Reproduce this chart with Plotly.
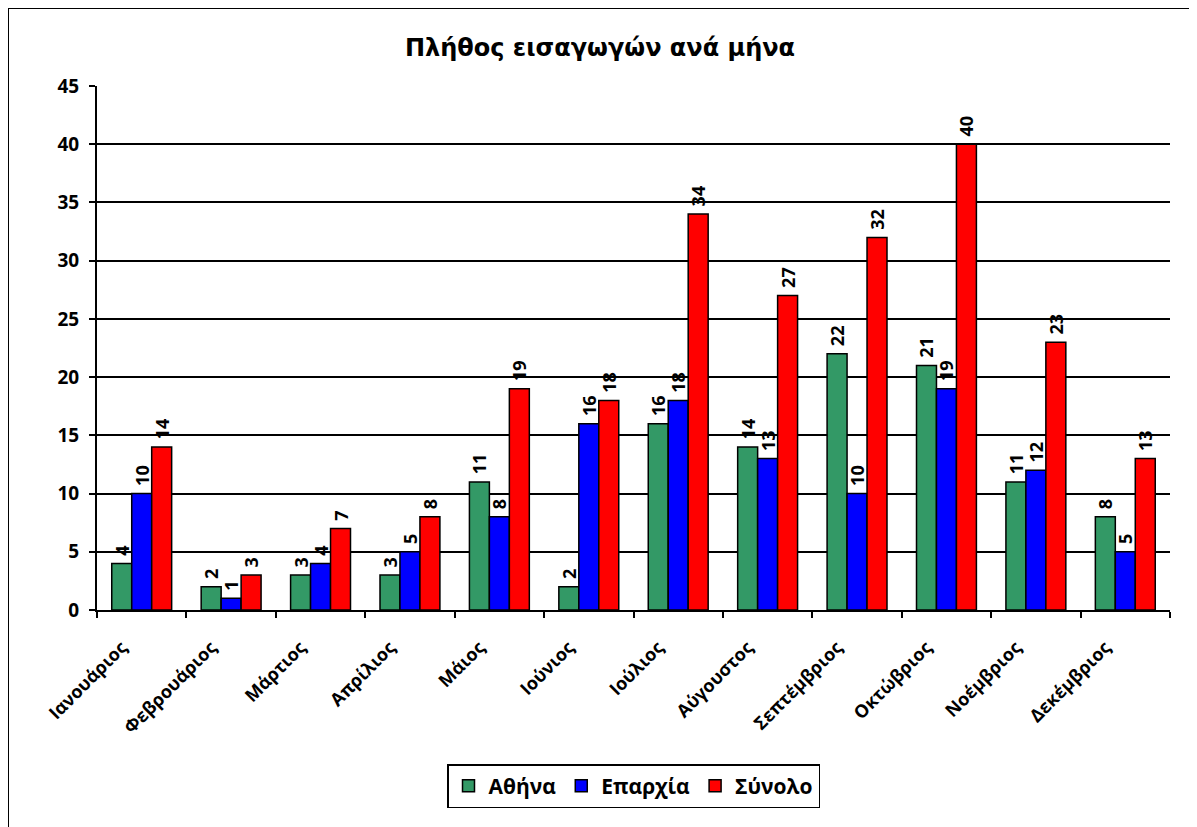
import plotly.graph_objects as go

months = ["Ιανουάριος", "Φεβρουάριος", "Μάρτιος", "Απρίλιος", "Μάιος", "Ιούνιος",
          "Ιούλιος", "Αύγουστος", "Σεπτέμβριος", "Οκτώβριος", "Νοέμβριος", "Δεκέμβριος"]
athina = [4, 2, 3, 3, 11, 2, 16, 14, 22, 21, 11, 8]
eparxia = [10, 1, 4, 5, 8, 16, 18, 13, 10, 19, 12, 5]
synolo = [14, 3, 7, 8, 19, 18, 34, 27, 32, 40, 23, 13]
series_names = ["Αθήνα", "Επαρχία", "Σύνολο"]
colors = ["#339966", "#0000FF", "#FF0000"]

FONT = "Open Sans"
fig = go.Figure()
for name, vals, col in zip(series_names, [athina, eparxia, synolo], colors):
    fig.add_trace(go.Bar(
        x=months, y=vals, name=name,
        marker=dict(color=col, line=dict(color="black", width=1.5)),
        text=["\u00a0" + str(v) for v in vals], textposition="outside", textangle=-90,
        constraintext="none",
        textfont=dict(family=FONT, size=18, color="black", weight="bold"),
        cliponaxis=False,
    ))

W, H = 1197, 827
# plot area in figure coordinates (page is offset by the body margin)
L, R, T, B = 89, 1162, 78, 602
pw, ph = R - L, B - T

fig.update_layout(
    width=W, height=H,
    margin=dict(l=L, r=W - R, t=T, b=H - B, autoexpand=False),
    paper_bgcolor="white", plot_bgcolor="white",
    barmode="group", bargap=0.33, bargroupgap=0,
    title=dict(text="Πλήθος εισαγωγών ανά μήνα", x=592 / W, xanchor="center",
               y=1 - 40 / H, yanchor="middle",
               font=dict(family="DejaVu Sans", size=24, color="black", weight="bold")),
    font=dict(family=FONT, color="black"),
    legend=dict(orientation="h", x=0.5, xanchor="center", y=(B - 756) / ph, yanchor="top",
                bordercolor="black", borderwidth=1.5, bgcolor="white",
                font=dict(family=FONT, size=21, color="black", weight="bold"),
                traceorder="normal", itemwidth=30),
    showlegend=True,
)
fig.update_xaxes(
    type="category", tickson="boundaries", ticks="outside", ticklen=6, tickcolor="black",
    tickwidth=2, showline=True, linecolor="black", linewidth=2, tickangle=-45,
    ticklabelshift=-20, ticklabelstandoff=18,
    tickfont=dict(family=FONT, size=18, color="black", weight="bold"), showgrid=False,
)
fig.update_yaxes(
    range=[0, 45], dtick=5, tick0=0, ticks="outside", ticklen=6, tickcolor="black",
    tickwidth=2, showline=True, linecolor="black", linewidth=2,
    showgrid=True, gridcolor="black", gridwidth=2, zeroline=False,
    ticklabelstandoff=6,
    tickfont=dict(family=FONT, size=19, color="black", weight="bold"),
)
# outer chart border
fig.add_shape(type="rect", xref="paper", yref="paper",
              x0=(0 - L) / pw, x1=(W + 10 - L) / pw, y0=(B - H - 10) / ph, y1=(B - 0) / ph,
              line=dict(color="black", width=2), fillcolor="rgba(0,0,0,0)", layer="below")

fig.write_html("out.html")
